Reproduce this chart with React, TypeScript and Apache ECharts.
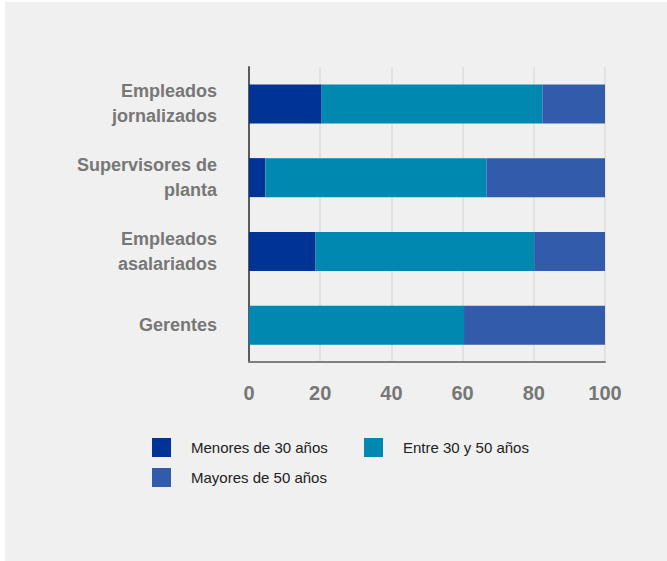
import React, { useEffect, useRef } from "react";
import * as echarts from "echarts";

const categories = [
  "Empleados\njornalizados",
  "Supervisores de\nplanta",
  "Empleados\nasalariados",
  "Gerentes",
];
const menores30 = [20.4, 4.6, 18.7, 0];
const entre30y50 = [62.0, 62.1, 61.4, 60.4];
const mayores50 = [17.6, 33.3, 19.9, 39.6];
const seriesNames = ["Menores de 30 años", "Entre 30 y 50 años", "Mayores de 50 años"];
const colors = ["#003396", "#0088B1", "#335BAB"];

export default function App() {
  const ref = useRef<HTMLDivElement>(null);
  useEffect(() => {
    if (!ref.current) return;
    const chart = echarts.init(ref.current, null, { renderer: "svg" });
    const data = [menores30, entre30y50, mayores50];
    const legendPos = [
      { left: 142, top: 431 },
      { left: 354, top: 431 },
      { left: 142, top: 461 },
    ];
    chart.setOption({
      animation: false,
      backgroundColor: "#f0f0f0",
      grid: { left: 244, top: 65, width: 356, height: 295, containLabel: false },
      legend: seriesNames.map((name, i) => ({
        left: legendPos[i].left,
        top: legendPos[i].top,
        itemWidth: 19,
        itemHeight: 19,
        icon: "rect",
        data: [name],
        textStyle: {
          fontFamily: "Liberation Sans, Arial, sans-serif",
          fontSize: 15,
          color: "#222",
          padding: [0, 0, 0, 15],
        },
      })),
      xAxis: {
        type: "value",
        min: 0,
        max: 100,
        interval: 20,
        axisLine: { show: true, lineStyle: { color: "#808080", width: 2 } },
        axisTick: { show: false },
        splitLine: { show: true, lineStyle: { color: "#e2e2e2", width: 2 } },
        axisLabel: {
          margin: 21,
          color: "#777",
          fontWeight: "bold",
          fontSize: 20,
          fontFamily: "Liberation Sans, Arial, sans-serif",
        },
      },
      yAxis: {
        type: "category",
        inverse: true,
        data: categories,
        axisLine: { show: true, lineStyle: { color: "#5a5a5a", width: 2 } },
        axisTick: { show: false },
        axisLabel: {
          margin: 32,
          color: "#777",
          fontWeight: "bold",
          fontSize: 18,
          lineHeight: 25,
          align: "right",
          fontFamily: "Liberation Sans, Arial, sans-serif",
        },
      },
      series: seriesNames.map((name, i) => ({
        name,
        type: "bar",
        stack: "total",
        barWidth: 39,
        itemStyle: { color: colors[i] },
        data: data[i],
      })),
    });
    return () => chart.dispose();
  }, []);
  return (
    <div
      ref={ref}
      style={{ position: "absolute", left: 5, top: 2, width: 662, height: 559 }}
    />
  );
}
